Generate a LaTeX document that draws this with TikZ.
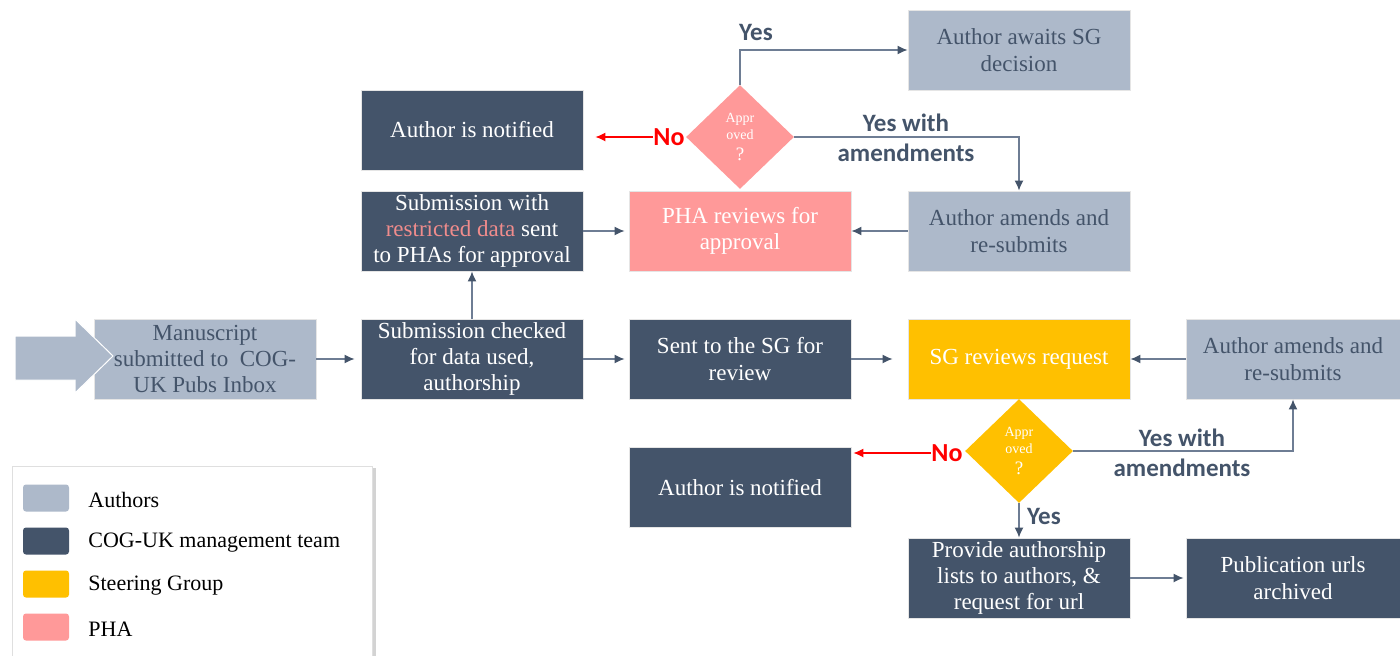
\documentclass[tikz,border=0pt]{standalone}
\usepackage{fontspec}
\setmainfont{Liberation Serif}
\newfontfamily\lblfont{Carlito}
\usetikzlibrary{shapes.geometric,shadows,arrows.meta}
\definecolor{authc}{RGB}{173,185,202}
\definecolor{mgmtc}{RGB}{68,84,106}
\definecolor{sgc}{RGB}{255,192,0}
\definecolor{phac}{RGB}{255,153,153}
\definecolor{restc}{RGB}{240,140,140}
\definecolor{linec}{RGB}{110,125,148}
\begin{document}
\begin{tikzpicture}[x=0.5pt,y=-0.5pt]
     \tikzstyle{every node}+=[inner sep=0pt]
     \tikzstyle{box}=[rectangle, minimum width=111pt, minimum height=40pt, align=center, draw=white!80!gray, line width=0.4pt, font=\fontsize{11.5}{13.2}\selectfont]
     \tikzstyle{authbox}=[box, fill=authc, text=mgmtc]
     \tikzstyle{mgmtbox}=[box, fill=mgmtc, text=white]
     \tikzstyle{sgbox}=[box, fill=sgc, text=white]
     \tikzstyle{phabox}=[box, fill=phac, text=white]
     \tikzstyle{decide}=[diamond, minimum width=54pt, minimum height=52pt, align=center, text=white, font=\fontsize{7}{8.5}\selectfont]
     \tikzstyle{arr}=[draw=linec, line width=0.7pt, -{Latex[length=5pt,width=4.5pt,color=mgmtc]}]
     \tikzstyle{noarr}=[draw=red, line width=0.6pt, -{Latex[length=5pt,width=4.5pt]}]
     \tikzstyle{yeslab}=[text=mgmtc, align=center, font=\lblfont\bfseries\fontsize{12.5}{15}\selectfont]
     \tikzstyle{nolab}=[text=red, font=\lblfont\bfseries\fontsize{13}{15}\selectfont]
     \tikzstyle{swatch}=[rectangle, rounded corners=1.5pt, minimum width=23pt, minimum height=13.5pt]
     \tikzstyle{legtxt}=[anchor=west, font=\fontsize{11}{13}\selectfont]
     \useasboundingbox (0,0) rectangle (1400,655);
     \node [authbox] (manu) at (205,359) {Manuscript\\submitted to~~COG-\\UK Pubs Inbox};
     \fill [authc, draw=white, line width=0.5pt] (15,336) -- (75,336) -- (75,319) -- (113,356) -- (75,393) -- (75,380) -- (15,380) -- cycle;
     \node [mgmtbox] (check) at (472,359) {Submission checked\\for data used,\\authorship};
     \node [mgmtbox] (sent) at (740,359) {Sent to the SG for\\review};
     \node [sgbox] (sgrev) at (1019,359) {SG reviews request};
     \node [authbox, minimum width=107pt] (amend2) at (1293,359) {Author amends and\\re-submits};
     \node [mgmtbox] (restr) at (472,231) {Submission with\\\textcolor{restc}{restricted data} sent\\to PHAs for approval};
     \node [phabox] (pharev) at (740,231) {PHA reviews for\\approval};
     \node [authbox] (amend1) at (1019,231) {Author amends and\\re-submits};
     \node [mgmtbox] (notif1) at (472,130) {Author is notified};
     \node [authbox] (await) at (1019,50) {Author awaits SG\\decision};
     \node [mgmtbox] (notif2) at (740,487) {Author is notified};
     \node [mgmtbox] (prov) at (1019,578) {Provide authorship\\lists to authors, \&\\request for url};
     \node [mgmtbox, minimum width=107pt] (pubs) at (1293,578) {Publication urls\\archived};
     \node [decide, fill=phac] (appr1) at (740,137) {Appr\\oved\\[2pt]{\fontsize{9.5}{9.5}\selectfont ?}};
     \node [decide, fill=sgc] (appr2) at (1019,451) {Appr\\oved\\[2pt]{\fontsize{9.5}{9.5}\selectfont ?}};
     \draw [arr, shorten >=3pt] (manu) -- (check);
     \draw [arr, shorten >=2pt] (check) -- (sent);
     \draw [arr, shorten >=7.5pt] (sent) -- (sgrev);
     \draw [arr] (check) -- (restr);
     \draw [arr, shorten >=2pt] (restr) -- (pharev);
     \draw [arr] (amend1) -- (pharev);
     \draw [arr] (amend2) -- (sgrev);
     \draw [arr, shorten >=1pt] (prov) -- (pubs);
     \draw [arr] (appr1.north) |- (await.west);
     \draw (756,32) node [yeslab] {Yes};
     \draw [arr] (appr1.east) -| (amend1.north);
     \draw (906,138) node [yeslab] {Yes with\\[0pt]amendments};
     \node [nolab] (no1) at (669,137) {No};
     \draw [noarr, shorten >=6pt] (no1.west) -- (notif1.east |- no1.west);
     \draw [arr] (appr2.south) -- (prov.north);
     \draw (1044,516) node [yeslab] {Yes};
     \draw [arr] (appr2.east) -| (amend2.south);
     \draw (1182,453) node [yeslab] {Yes with\\[0pt]amendments};
     \node [nolab] (no2) at (947,453) {No};
     \draw [noarr, shorten >=1pt] (no2.west) -- (notif2.east |- no2.west);
     \draw [draw=gray!25, fill=white, drop shadow={shadow xshift=2pt, shadow yshift=-1pt, opacity=0.35}] (12,466) rectangle (372,675);
     \foreach \c/\t [count=\i] in {authc/Authors, mgmtc/COG-UK management team, sgc/Steering Group, phac/PHA}
     {
       \node [swatch, fill=\c] (sw\i) at (46,455+43*\i) {};
       \node [legtxt] (lt\i) at (88,457+43*\i) {\t};
     }
\end{tikzpicture}
\end{document}
